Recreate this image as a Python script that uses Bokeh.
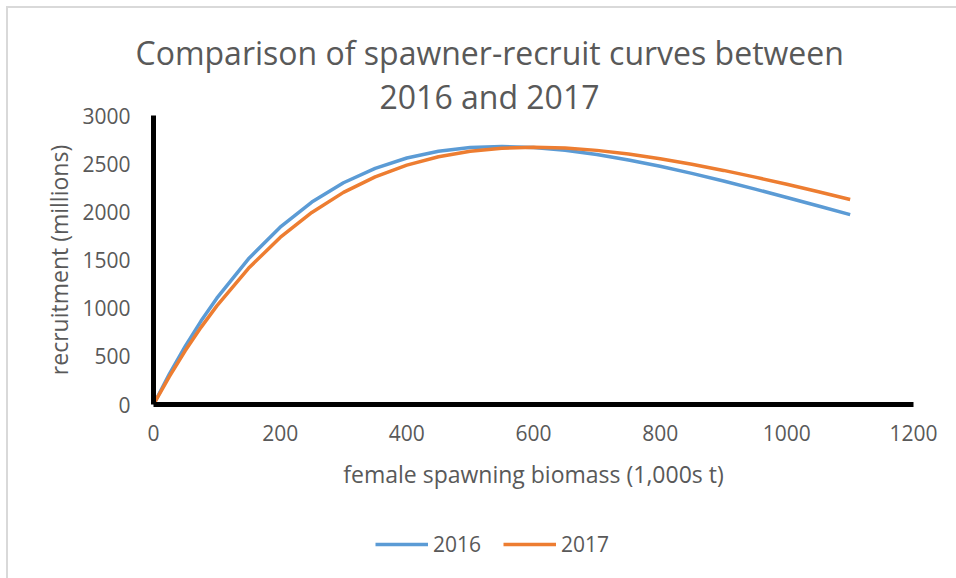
from bokeh.plotting import figure
from bokeh.models import FixedTicker, Legend, LegendItem, Title, Range1d
from bokeh.layouts import column
from bokeh.embed import file_html
from bokeh.resources import INLINE

# biomass (1,000s t)
biomass = [0, 25, 50, 75, 100, 150, 200, 250, 300, 350, 400, 450, 500, 550,
           600, 650, 700, 750, 800, 850, 900, 950, 1000, 1050, 1100]
# recruitment (millions)
rec_2016 = [0, 316, 604, 866, 1104, 1512, 1841, 2101, 2302, 2452, 2559, 2629,
            2667, 2679, 2668, 2640, 2596, 2539, 2473, 2399, 2320, 2236, 2149,
            2060, 1971]
rec_2017 = [0, 290, 557, 801, 1024, 1414, 1734, 1994, 2202, 2363, 2485, 2572,
            2629, 2661, 2671, 2662, 2638, 2600, 2552, 2494, 2430, 2360, 2286,
            2208, 2128]
x_ticks = [0, 200, 400, 600, 800, 1000, 1200]
y_ticks = [0, 500, 1000, 1500, 2000, 2500, 3000]
series_names = ["2016", "2017"]
title_lines = ["Comparison of spawner-recruit curves between", "2016 and 2017"]

FONT = "Open Sans"
TXT = "#595959"
BLUE = "#5B9BD5"
ORANGE = "#ED7D31"

p = figure(width=956, height=520, output_backend="svg", toolbar_location=None,
           x_range=Range1d(0, 1200), y_range=Range1d(0, 3000),
           min_border_left=153, min_border_right=43, min_border_top=115,
           min_border_bottom=116, title=None)
p.border_fill_color = None
p.outline_line_color = None
p.grid.visible = False

r1 = p.line(biomass, rec_2016, line_color=BLUE, line_width=3.5)
r2 = p.line(biomass, rec_2017, line_color=ORANGE, line_width=3.5)

for ax in (p.xaxis[0], p.yaxis[0]):
    ax.axis_line_width = 5
    ax.axis_line_color = "black"
    ax.major_tick_line_color = None
    ax.minor_tick_line_color = None
    ax.major_tick_out = 0
    ax.major_tick_in = 0
    ax.major_label_text_font = FONT
    ax.major_label_text_font_size = "21px"
    ax.major_label_text_color = TXT
    ax.axis_label_text_font = FONT
    ax.axis_label_text_font_size = "23px"
    ax.axis_label_text_color = TXT
    ax.axis_label_text_font_style = "normal"

p.xaxis.ticker = FixedTicker(ticks=x_ticks)
p.yaxis.ticker = FixedTicker(ticks=y_ticks)
p.xaxis.major_label_standoff = 20
p.yaxis.major_label_standoff = 23
p.xaxis.axis_label = "female spawning biomass (1,000s t)"
p.yaxis.axis_label = "recruitment (millions)"
p.xaxis.axis_label_standoff = 14
p.yaxis.axis_label_standoff = 4

# title, two lines, nearest line added first
for line, off, standoff in ((title_lines[1], 226, -4), (title_lines[0], -18, 1)):
    p.add_layout(Title(text=line, align="left", offset=off, standoff=standoff,
                       text_font=FONT, text_font_size="32px",
                       text_color=TXT, text_font_style="normal"), "above")

# legend strip below the chart (its frame is aligned with the chart's frame)
q = figure(width=956, height=58, output_backend="svg", toolbar_location=None,
           x_range=Range1d(-20, -10), y_range=Range1d(-20, -10), min_border=0,
           x_axis_type=None, y_axis_type=None)
q.border_fill_color = None
q.background_fill_color = None
q.outline_line_color = None
q.grid.visible = False
k1 = q.line(biomass, rec_2016, line_color=BLUE, line_width=3.5)
k2 = q.line(biomass, rec_2017, line_color=ORANGE, line_width=3.5)
legend = Legend(items=[LegendItem(label=series_names[0], renderers=[k1]),
                       LegendItem(label=series_names[1], renderers=[k2])],
                orientation="horizontal", location=(222, 20),
                label_text_font=FONT, label_text_font_size="21px",
                label_text_color=TXT, border_line_color=None,
                background_fill_alpha=0, glyph_width=53, spacing=22,
                label_standoff=5, padding=0, margin=0)
q.add_layout(legend, "center")

page = column(p, q, spacing=0)
page.styles = {
    "background": "linear-gradient(#d9d9d9,#d9d9d9) 6px 6px / 100% 2px no-repeat, "
                  "linear-gradient(#d9d9d9,#d9d9d9) 6px 6px / 2px 100% no-repeat, #ffffff",
}

open("out.html", "w").write(file_html(page, INLINE))
